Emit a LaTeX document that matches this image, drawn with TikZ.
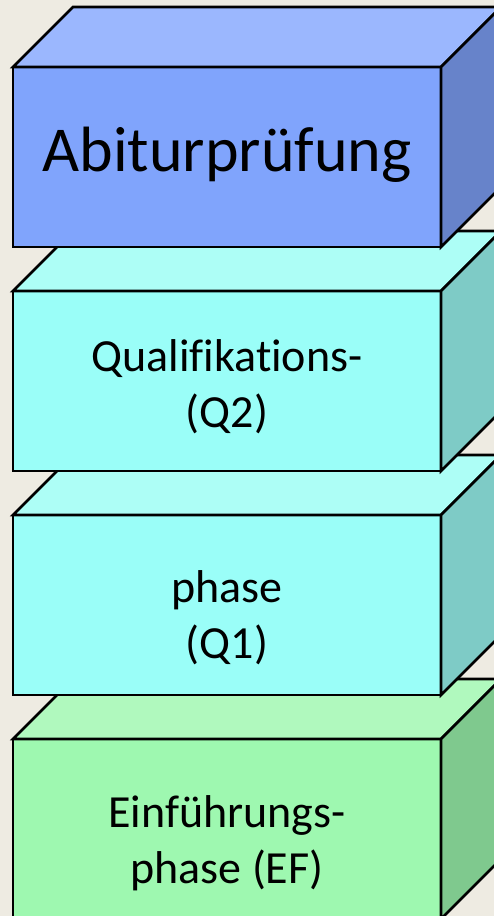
\documentclass[tikz,border=0pt]{standalone}
\usepackage{fontspec}
\setmainfont{Carlito}[Ligatures=NoCommon]
\usetikzlibrary{positioning}

\definecolor{paper}{HTML}{EEEBE2}
\definecolor{abifront}{HTML}{80A4FC}
\definecolor{abitop}{HTML}{9BB7FE}
\definecolor{abiside}{HTML}{6783CA}
\definecolor{qfront}{HTML}{9AFEF8}
\definecolor{qtop}{HTML}{ADFEF6}
\definecolor{qside}{HTML}{7ECBC6}
\definecolor{effront}{HTML}{9EF8B0}
\definecolor{eftop}{HTML}{B0F9BE}
\definecolor{efside}{HTML}{7FC98E}

\begin{document}
\begin{tikzpicture}[
    x=1pt, y=1pt,
    node distance=44pt,
    slab/.style={rectangle, draw=black, line width=2.6pt, minimum width=428pt, minimum height=180pt,
        inner sep=0pt, outer sep=0pt},
    caption/.style={align=center, inner sep=0pt, font=\fontsize{46}{56}\selectfont},
    face/.style={draw=black, line width=2.6pt, line join=miter}]

    \useasboundingbox (0,0) rectangle (494,916);
    \clip (0,0) rectangle (494,916);
    \fill[paper] (0,0) rectangle (494,916);

    % bottom slab first, the upper ones cover it
    \node[slab, fill=effront] (ef) at (227,87) {};
    \node[caption, yshift=-14pt] (eftext) at (ef) {Einführungs-\\phase (EF)};
    \filldraw[face, fill=eftop] (ef.north west) -- ++(60,60) -- ++(428,0) -- (ef.north east) -- cycle;
    \filldraw[face, fill=efside] (ef.north east) -- ++(60,60) -- ++(0,-180) -- (ef.south east) -- cycle;

    \node[slab, fill=qfront, above=of ef] (qone) {};
    \node[caption, yshift=-13pt] (qonetext) at (qone) {phase\\(Q1)};
    \filldraw[face, fill=qtop] (qone.north west) -- ++(60,60) -- ++(428,0) -- (qone.north east) -- cycle;
    \filldraw[face, fill=qside] (qone.north east) -- ++(60,60) -- ++(0,-180) -- (qone.south east) -- cycle;

    \node[slab, fill=qfront, above=of qone] (qtwo) {};
    \node[caption, yshift=-6pt] (qtwotext) at (qtwo) {Qualifikations-\\(Q2)};
    \filldraw[face, fill=qtop] (qtwo.north west) -- ++(60,60) -- ++(428,0) -- (qtwo.north east) -- cycle;
    \filldraw[face, fill=qside] (qtwo.north east) -- ++(60,60) -- ++(0,-180) -- (qtwo.south east) -- cycle;

    % exam on top
    \node[slab, fill=abifront, above=of qtwo] (abitur) {};
    \node[caption, yshift=2pt, font=\fontsize{64}{76}\selectfont] (abiturtext) at (abitur) {Abiturprüfung};
    \filldraw[face, fill=abitop] (abitur.north west) -- ++(60,60) -- ++(428,0) -- (abitur.north east) -- cycle;
    \filldraw[face, fill=abiside] (abitur.north east) -- ++(60,60) -- ++(0,-180) -- (abitur.south east) -- cycle;
\end{tikzpicture}
\end{document}
